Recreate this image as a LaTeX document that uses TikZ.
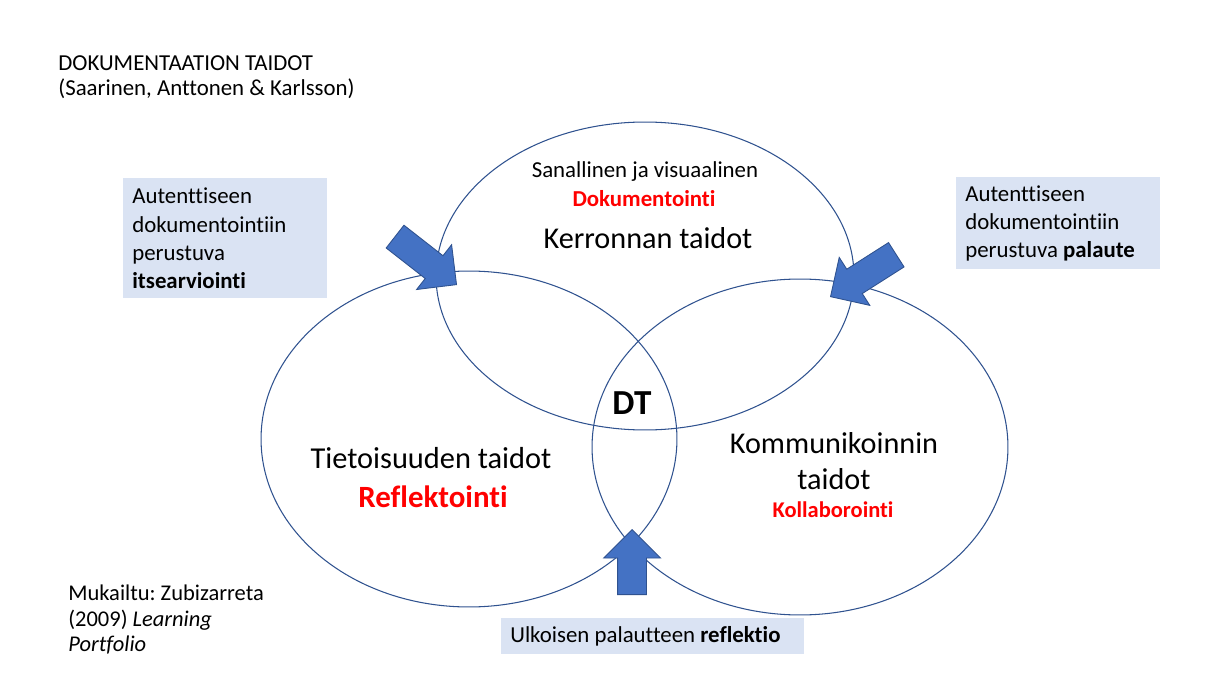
\documentclass[tikz,border=0pt]{standalone}
\usepackage{fontspec}
\setmainfont{Carlito}[Ligatures=NoCommon]
\frenchspacing
\definecolor{ringblue}{RGB}{47,82,143}
\definecolor{arrowblue}{RGB}{68,114,196}
\definecolor{boxblue}{RGB}{218,227,243}
\definecolor{myred}{RGB}{255,0,0}
\usetikzlibrary{positioning,shapes.geometric,shapes.arrows}

\begin{document}
\begin{tikzpicture}[x=0.02cm,y=-0.02cm,
    ring/.style={draw=ringblue,line width=0.6pt,ellipse,inner sep=0pt},
    infobox/.style={fill=boxblue,inner xsep=0.18cm,inner ysep=0.1cm,align=flush left,
                    anchor=north west,font=\fontsize{13}{16}\selectfont},
    blockarrow/.style={single arrow,fill=arrowblue,draw=ringblue,line width=0.5pt,
                       inner xsep=0pt,inner ysep=0.28cm,single arrow head extend=0.28cm,
                       anchor=tip}]
  \useasboundingbox (0,0) rectangle (1224,689);

  % the three skill areas
  \node[ring,minimum width=8.36cm,minimum height=6.16cm] (kerronta) at (645,276) {};
  \node[ring,minimum width=8.32cm,minimum height=6.72cm] (tietoisuus) at (469,439) {};
  \node[ring,minimum width=8.32cm,minimum height=6.72cm] (kommunikointi) at (800,447) {};

  % texts inside the rings
  \node[font=\fontsize{13}{15}\selectfont] (sanallinen) at (645,172) {Sanallinen ja visuaalinen};
  \node[font=\bfseries\fontsize{13}{15}\selectfont,text=myred] (dokumentointi) at (644,199) {Dokumentointi};
  \node[font=\fontsize{17.2}{20}\selectfont] (kerronnan) at (648,238) {Kerronnan taidot};
  \node[font=\fontsize{17.3}{20}\selectfont] (tietoisuuden) at (431,458) {Tietoisuuden taidot};
  \node[font=\bfseries\fontsize{17.6}{21}\selectfont,text=myred] (reflektointi) at (433,497) {Reflektointi};
  \node[font=\bfseries\fontsize{20}{22}\selectfont] (dt) at (632,403) {DT};
  \node[align=center,font=\fontsize{17.2}{20.4}\selectfont] (kommunikoinnin) at (834,461) {Kommunikoinnin\\taidot};
  \node[font=\bfseries\fontsize{12.8}{14}\selectfont,text=myred] (kollaborointi) at (833,510) {Kollaborointi};

  % feedback boxes
  \node[infobox,text width=3.72cm,minimum height=2.4cm] (itsearviointi) at (123,178)
    {Autenttiseen\\dokumentointiin\\perustuva\\\textbf{itsearviointi}};
  \node[infobox,text width=3.72cm,minimum height=1.84cm] (palaute) at (956,177)
    {Autenttiseen\\dokumentointiin\\perustuva \textbf{palaute}};
  \node[infobox,text width=5.70cm,minimum height=0.72cm] (reflektio) at (501,618)
    {Ulkoisen palautteen \textbf{reflektio}};

  % block arrows
  \node[blockarrow,minimum height=1.56cm,rotate=-38] (nuoli1) at (457,285) {};
  \node[blockarrow,minimum height=1.56cm,rotate=-147.5] (nuoli2) at (830,297) {};
  \node[blockarrow,minimum height=1.3cm,rotate=90] (nuoli3) at (632,529) {};

  % source notes
  \node[anchor=north west,align=left,inner sep=0pt,font=\fontsize{13}{14.7}\selectfont] (otsikko) at (58,55)
    {DOKUMENTAATION TAIDOT\\(Saarinen, Anttonen \& Karlsson)};
  \node[anchor=north west,align=left,inner sep=0pt,font=\fontsize{12.8}{14.5}\selectfont] (lahde) at (68,585)
    {Mukailtu: Zubizarreta\\(2009) \textit{Learning}\\\textit{Portfolio}};
\end{tikzpicture}
\end{document}
